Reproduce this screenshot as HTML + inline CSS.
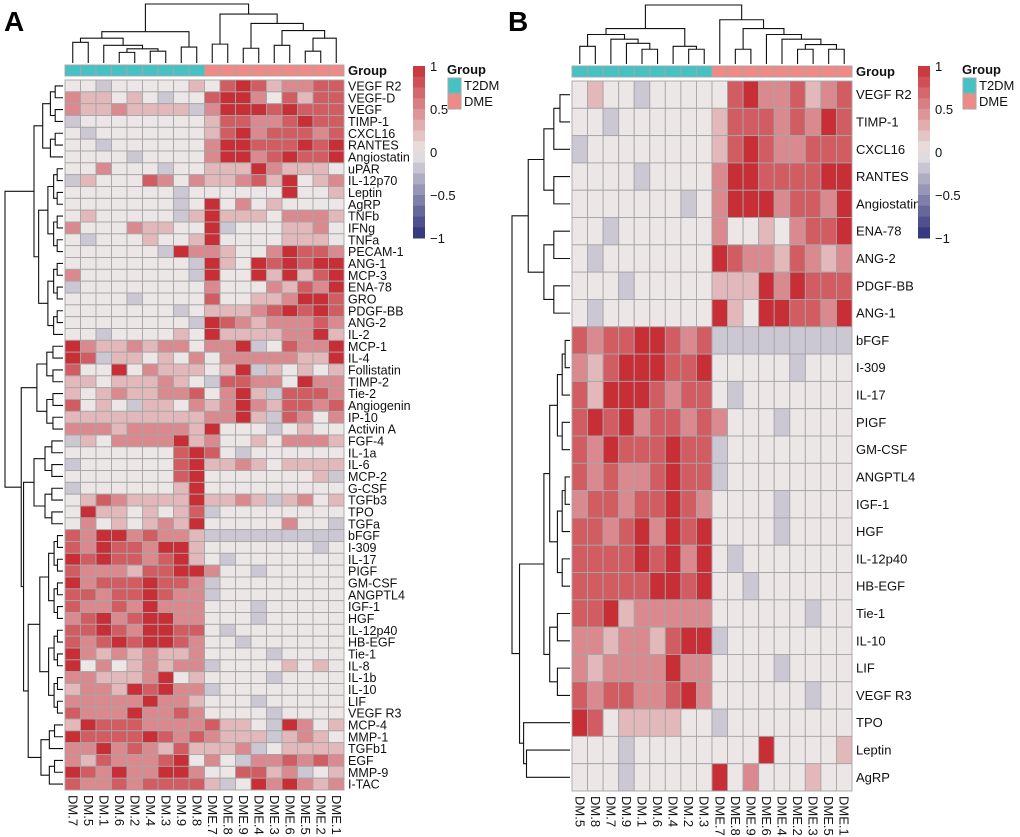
<!DOCTYPE html>
<html><head><meta charset="utf-8"><style>
html,body{margin:0;padding:0;background:#fff;}
svg{display:block;font-family:"Liberation Sans",sans-serif;}
</style></head><body>
<svg id="chart" width="1020" height="837" viewBox="0 0 1020 837" xmlns="http://www.w3.org/2000/svg"></svg>
<script>
// ---------- data ----------
const colsA = ["DM.7","DM.5","DM.1","DM.6","DM.2","DM.4","DM.3","DM.9","DM.8","DME.7","DME.8","DME.9","DME.4","DME.3","DME.6","DME.5","DME.2","DME.1"];
const rowsA = ["VEGF R2","VEGF-D","VEGF","TIMP-1","CXCL16","RANTES","Angiostatin","uPAR","IL-12p70","Leptin","AgRP","TNFb","IFNg","TNFa","PECAM-1","ANG-1","MCP-3","ENA-78","GRO","PDGF-BB","ANG-2","IL-2","MCP-1","IL-4","Follistatin","TIMP-2","Tie-2","Angiogenin","IP-10","Activin A","FGF-4","IL-1a","IL-6","MCP-2","G-CSF","TGFb3","TPO","TGFa","bFGF","I-309","IL-17","PIGF","GM-CSF","ANGPTL4","IGF-1","HGF","IL-12p40","HB-EGF","Tie-1","IL-8","IL-1b","IL-10","LIF","VEGF R3","MCP-4","MMP-1","TGFb1","EGF","MMP-9","I-TAC"];
// level codes: b = slightly negative, 0..4 = 0..1 in quarters
const valsA = [
"00b000001034312233","211010b00344203133","21121111b244434333","b00000000133223433","0b0000000134233323",
"00b000000244333434","0000b0000244234334","002000b00111421110","b10003202112314012","0000000b0000004001",
"0000000b0402010000","0100000b1411102221","2000211004b0001120","0b0001001400001110","000000b42210024332",
"00000000b410434344","20000000b400414134","b00000000200021324","0000b0000300112443","0000000b0111234343",
"00000000b432122232","00b000010411112241","421121220224b03224","43b110102022222114","300402111014b10101",
"110111210b33220422","1012112230241b3332","3010b1102124213323","1111111112241b3202","2221222214000b0100",
"b10222241200102221","00000003430b000000","b00000034112101111","00000003400000001b","b00000014000000000",
"0132111141121b1201","041101013b00000000","02010121400000200b","324423221bbbbbbbbb","3243324410000000b0",
"4343323410b0000000","322213344200b00000","423334332b00000000","332334322b00000000","322324222000b00000",
"234234422000b00000","3343244330b0000000","32343443200b000000","4212121120000b0000","402012122b00001010",
"2211124010000b0000","122143422b00000000","222224221000b00000","3222422320000b0000","1433322223110b4201",
"4333343232111b1210","224232131112b01111","21322234020b223232","432422442003312b01","3223233331b0424212"
];
const colsB = ["DM.5","DM.8","DM.7","DM.9","DM.1","DM.6","DM.4","DM.2","DM.3","DME.7","DME.8","DME.9","DME.6","DME.4","DME.2","DME.3","DME.5","DME.1"];
const rowsB = ["VEGF R2","TIMP-1","CXCL16","RANTES","Angiostatin","ENA-78","ANG-2","PDGF-BB","ANG-1","bFGF","I-309","IL-17","PIGF","GM-CSF","ANGPTL4","IGF-1","HGF","IL-12p40","HB-EGF","Tie-1","IL-10","LIF","VEGF R3","TPO","Leptin","AgRP"];
const valsB = [
"0100b0000034223123","00b000000133323243","b00000000134322333","0000b0000244333344","0000000b0244423324",
"00b000000200102334","0b0000000432213212","000b00000111424333","0b0000000410443324","323344323bbbbbbbbb",
"21344433400000b000","3144432330b0000000","3434233232000b0000","324333433b00000000","323223433b00000000",
"2332334320000b0000","3323424340000b0000","3333434240b0000000","33333443400b000000","334122222000000b00",
"221221344b00000000","2122224220000b0000","323322342000000b00","430111100b00000000","000b00000000400001",
"000b00000402000100"
];
// ---------- helpers ----------
const svg = document.getElementById('chart');
const NS = 'http://www.w3.org/2000/svg';
function mk(tag, attrs, parent){ const e=document.createElementNS(NS,tag); for(const k in attrs) e.setAttribute(k,attrs[k]); (parent||svg).appendChild(e); return e; }
function codeToVal(c){ return c==='b' ? -0.17 : (parseInt(c,10)||0)*0.25; }
function colorOf(v){
  const g=[236,230,230], r=[200,46,54], n=[42,46,120];
  let t, tgt; if(v>=0){t=Math.min(1,v);tgt=r;} else {t=Math.min(1,-v);tgt=n;}
  const c=g.map((x,i)=>Math.round(x+(tgt[i]-x)*t));
  return 'rgb('+c.join(',')+')';
}
function fixRow(s){ s=(s||'').slice(0,18); while(s.length<18) s+='0'; return s; }

function auto(lo,hi,h){ if(lo===hi) return {leaf:lo}; const m=Math.floor((lo+hi)/2); return {h:h, l:auto(lo,m,h*0.62), r:auto(m+1,hi,h*0.62)}; }
function node(h,l,r){ return {h:h,l:l,r:r}; }
function drawTree(t, posFn, hFn, orient, g){
  function rec(n){
    if(n.leaf!==undefined) return {p:posFn(n.leaf), d:hFn(0)};
    const a=rec(n.l), b=rec(n.r), d=hFn(n.h);
    let path;
    if(orient==='top') path=`M${a.p},${a.d}V${d}H${b.p}V${b.d}`;
    else path=`M${a.d},${a.p}H${d}V${b.p}H${b.d}`;
    const e=mk('path',{d:path,fill:'none',stroke:'#111','stroke-width':1.1},g);
    
    
    return {p:(a.p+b.p)/2, d:d};
  }
  rec(t);
}

function panel(cfg){
  const g=mk('g',{});
  
  
  const nc=cfg.cols.length, nr=cfg.rows.length;
  const cw=(cfg.x1-cfg.x0)/nc, rh=(cfg.y1-cfg.y0)/nr;
  const xPos=i=>cfg.x0+cw*(i+0.5), yPos=j=>cfg.y0+rh*(j+0.5);
  const cg=mk('g',{},g);
  
  
  cfg.vals.forEach((rowStr,j)=>{
    const s=fixRow(rowStr);
    for(let i=0;i<nc;i++){
      const c=mk('rect',{x:cfg.x0+cw*i,y:cfg.y0+rh*j,width:cw,height:rh,fill:colorOf(codeToVal(s[i])),stroke:'#a6a6a6','stroke-width':0.9},cg);
      
      
    }
  });
  for(let i=0;i<nc;i++){
    const dme=cfg.cols[i].indexOf('DME')===0;
    const c=mk('rect',{x:cfg.x0+cw*i,y:cfg.gy,width:cw,height:11,fill:dme?'#F08A86':'#46C2C5',stroke:'#a6a6a6','stroke-width':0.9},g);
    
    
  }
  let t=mk('text',{x:cfg.x1+4,y:cfg.gy+10,'font-size':13,'font-weight':'bold',fill:'#111'},g); t.textContent='Group';
   
  cfg.rows.forEach((r,j)=>{
    const e=mk('text',{x:cfg.x1+4,y:yPos(j)+4.5,'font-size':cfg.fs,fill:'#111'},g); e.textContent=r;
     
  });
  cfg.cols.forEach((c,i)=>{
    const e=mk('text',{x:0,y:0,'font-size':13,fill:'#111',transform:`translate(${xPos(i)-4.5},${cfg.y1+5}) rotate(90)`},g); e.textContent=c;
     
  });
  const dg=mk('g',{},g);
   
  drawTree(cfg.colTree,xPos,h=>cfg.gy-2-h*cfg.colScale,'top',dg);
  const rg=mk('g',{},g);
   
  drawTree(cfg.rowTree,yPos,h=>cfg.x0-2-h*cfg.rowScale,'left',rg);
  t=mk('text',{x:cfg.lx,y:31,'font-size':28,'font-weight':'bold',fill:'#000'},g); t.textContent=cfg.letter;
   
  const lg=mk('g',{},g);
   
  const steps=16, top=66, bot=238, sh=(bot-top)/steps;
  for(let k=0;k<steps;k++){
    const v=1-(k+0.5)*2/steps;
    mk('rect',{x:cfg.lgx,y:top+k*sh,width:12,height:sh+0.5,fill:colorOf(v)},lg);
  }
  [["1",1],["0.5",0.5],["0",0],["\u22120.5",-0.5],["\u22121",-1]].forEach(([s,v])=>{
    const e=mk('text',{x:cfg.lgx+17,y:top+(1-v)/2*(bot-top)+5,'font-size':13,fill:'#111'},lg); e.textContent=s;
     
  });
  const gl=mk('g',{},g);
   
  t=mk('text',{x:cfg.glx,y:74,'font-size':13,'font-weight':'bold',fill:'#111'},gl); t.textContent='Group';
  mk('rect',{x:cfg.glx+1,y:78,width:13,height:15,fill:'#46C2C5',stroke:'#a6a6a6'},gl);
  mk('rect',{x:cfg.glx+1,y:94,width:13,height:15,fill:'#F08A86',stroke:'#a6a6a6'},gl);
  t=mk('text',{x:cfg.glx+17,y:90,'font-size':13,fill:'#111'},gl); t.textContent='T2DM';
   
  t=mk('text',{x:cfg.glx+17,y:106,'font-size':13,fill:'#111'},gl); t.textContent='DME';
   
}

const colTreeA = node(1.0,
  node(0.53, node(0.42, node(0.35,{leaf:0},{leaf:1}), node(0.3,{leaf:2}, node(0.24, node(0.18,{leaf:3},{leaf:4}), node(0.2,{leaf:5},{leaf:6})))), node(0.27,{leaf:7},{leaf:8})),
  node(0.83, node(0.32,{leaf:9},{leaf:10}), node(0.67, node(0.25,{leaf:11},{leaf:12}), node(0.55, node(0.3,{leaf:13},{leaf:14}), node(0.42, node(0.2,{leaf:15},{leaf:16}),{leaf:17})))));
const rowTreeA = node(1.0,
  node(0.5, auto(0,6,0.35), auto(7,21,0.42)),
  node(0.72, auto(22,29,0.45), node(0.68, auto(30,37,0.5), node(0.6, auto(38,53,0.4), auto(54,59,0.38)))));
const colTreeB = node(1.0,
  node(0.6, node(0.5, node(0.3,{leaf:0},{leaf:1}), node(0.42,{leaf:2}, node(0.35,{leaf:3}, node(0.25,{leaf:4},{leaf:5})))), node(0.3,{leaf:6}, node(0.25,{leaf:7},{leaf:8}))),
  node(0.75, {leaf:9}, node(0.6, node(0.25,{leaf:10},{leaf:11}), node(0.5,{leaf:12}, node(0.42,{leaf:13}, node(0.33, node(0.25,{leaf:14},{leaf:15}), node(0.25,{leaf:16},{leaf:17})))))));
const rowTreeB = node(1.0,
  node(0.72, auto(0,4,0.45), auto(5,8,0.45)),
  node(0.87, node(0.45, auto(9,18,0.35), auto(19,22,0.35)), node(0.8,{leaf:23}, node(0.75,{leaf:24},{leaf:25}))));

panel({name:'panel-a-heatmap',cols:colsA,rows:rowsA,vals:valsA,x0:65,x1:344,y0:80,y1:790,gy:65,fs:12.5,
  colTree:colTreeA,colScale:59,rowTree:rowTreeA,rowScale:58,letter:'A',lx:4,lgx:413,glx:447});
panel({name:'panel-b-heatmap',cols:colsB,rows:rowsB,vals:valsB,x0:572,x1:852,y0:81,y1:791,gy:66,fs:13,
  colTree:colTreeB,colScale:59,rowTree:rowTreeB,rowScale:58,letter:'B',lx:508,lgx:918,glx:962});
</script>
</body></html>
